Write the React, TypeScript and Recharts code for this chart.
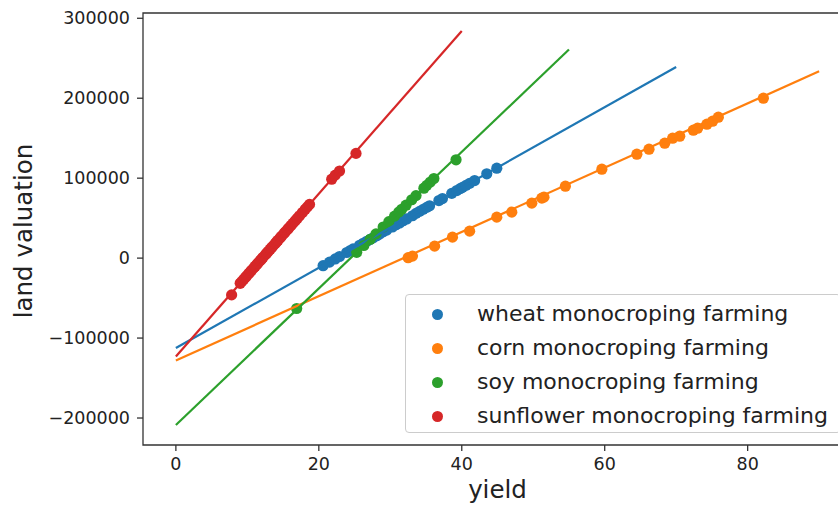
import React from 'react';
import { ScatterChart, Scatter, XAxis, YAxis, ReferenceArea, Label } from 'recharts';

// ---- data ----
const seriesNames = [
  'wheat monocroping farming',
  'corn monocroping farming',
  'soy monocroping farming',
  'sunflower monocroping farming',
];
const seriesColors = ['#1f77b4', '#ff7f0e', '#2ca02c', '#d62728'];

const xTicks = [0, 20, 40, 60, 80];
const yTicks = [-200000, -100000, 0, 100000, 200000, 300000];
const xDomain = [-4.6, 94.6];
const yDomain = [-233750, 306600];

const wheatX = [20.6, 21.5, 22.3, 22.9, 23.9, 24.4, 24.8, 25.7, 26.2, 26.7, 27.2, 27.6, 28.1, 28.5, 29.0, 29.5, 30.3, 30.8, 31.3, 31.8, 32.3, 33.1, 33.6, 34.1, 34.6, 35.1, 35.5, 36.8, 37.3, 38.6, 39.3, 39.8, 40.1, 40.6, 41.1, 41.8, 43.5, 44.9];
const wheatY = [-9500, -5000, -1000, 2000, 7000, 9500, 11500, 16000, 18500, 21000, 23500, 25500, 28000, 30000, 32800, 35000, 39000, 41800, 44000, 46800, 49000, 53000, 56000, 58500, 61000, 63500, 65500, 72000, 74500, 81000, 84500, 87000, 88500, 91000, 93500, 97000, 105500, 112500];

const cornX = [32.5, 33.1, 36.2, 38.7, 41.1, 44.9, 47.0, 49.8, 51.2, 51.5, 54.5, 59.6, 64.5, 66.2, 68.4, 69.5, 70.5, 72.4, 73.0, 74.3, 75.1, 75.9, 82.2];
const cornY = [500, 2500, 15000, 26250, 33750, 51250, 57500, 68750, 75000, 76250, 90000, 111250, 130000, 136250, 143750, 150000, 152500, 160000, 162500, 167500, 171250, 176250, 200000];

const soyX = [16.9, 25.3, 26.3, 27.2, 28.0, 29.0, 29.8, 30.6, 31.2, 31.6, 32.2, 33.0, 33.6, 34.7, 35.1, 35.6, 36.1, 39.2];
const soyY = [-63000, 7300, 15800, 23500, 30300, 38900, 45700, 52500, 57700, 61100, 66200, 73000, 78200, 87500, 91000, 95200, 99500, 123000];

const sunflowerX = [7.8, 9.0, 9.2, 9.5, 9.7, 9.9, 10.2, 10.4, 10.6, 10.9, 11.1, 11.3, 11.5, 11.8, 12.0, 12.2, 12.5, 12.7, 12.9, 13.2, 13.4, 13.6, 13.9, 14.1, 14.3, 14.6, 14.8, 15.1, 15.3, 15.6, 15.8, 16.1, 16.4, 16.7, 17.0, 17.3, 17.7, 18.1, 18.4, 18.7, 21.8, 22.3, 22.9, 25.2];
const sunflowerY = [-46000, -31500, -29400, -26400, -24400, -22300, -19300, -17200, -15200, -12200, -10100, -8100, -6100, -3000, -1000, 1100, 4100, 6100, 8200, 11200, 13300, 15300, 18300, 20400, 22400, 25500, 27500, 30600, 32600, 35600, 37700, 40700, 43800, 46800, 49900, 52900, 57000, 61100, 64100, 67200, 98700, 103800, 109000, 131000];

// fitted line endpoints
const wheatFitX = [0, 70];
const wheatFitY = [-112500, 239000];
const cornFitX = [0, 90];
const cornFitY = [-128000, 233750];
const soyFitX = [0, 55];
const soyFitY = [-208750, 261000];
const sunflowerFitX = [0, 40];
const sunflowerFitY = [-123000, 284000];

const zip = (xs: number[], ys: number[]) => xs.map((x, i) => ({ x, y: ys[i] }));

const pointSets = [
  zip(wheatX, wheatY),
  zip(cornX, cornY),
  zip(soyX, soyY),
  zip(sunflowerX, sunflowerY),
];
const fitSets = [
  zip(wheatFitX, wheatFitY),
  zip(cornFitX, cornFitY),
  zip(soyFitX, soyFitY),
  zip(sunflowerFitX, sunflowerFitY),
];

const FONT = '"DejaVu Sans", sans-serif';
const TEXT = '#222';
const AX = '#333';

const fmtY = (v: number) => (v < 0 ? '\u2212' + Math.abs(v) : String(v));

const makeDot = (color: string) => (props: any) => (
  <circle cx={props.cx} cy={props.cy} r={5.6} fill={color} />
);
const noDot = () => <g />;

const YLabelContent = () => (
  <text
    x={32}
    y={231}
    transform="rotate(-90 32 231)"
    textAnchor="middle"
    fontSize={24.5}
    fontFamily={FONT}
    fill={TEXT}
  >
    land valuation
  </text>
);

const XLabelContent = (props: any) => {
  const vb = props.viewBox || { x: 143, width: 709 };
  const cx = vb.x + vb.width / 2;
  return (
    <text x={cx} y={498} textAnchor="middle" fontSize={24.5} fontFamily={FONT} fill={TEXT}>
      yield
    </text>
  );
};

export default function App() {
  return (
    <div
      style={{
        position: 'absolute',
        left: 0,
        top: 0,
        width: 838,
        height: 507,
        overflow: 'hidden',
        background: '#fff',
      }}
    >
      <ScatterChart width={870} height={507} margin={{ top: 13, right: 18, bottom: 12, left: 0 }}>
        <XAxis
          type="number"
          dataKey="x"
          domain={xDomain}
          ticks={xTicks}
          allowDataOverflow
          height={50}
          axisLine={false}
          tickSize={6}
          tickMargin={7}
          tickLine={{ stroke: AX, strokeWidth: 1.3 }}
          tick={{ fontSize: 17.5, fill: TEXT, fontFamily: FONT }}
        >
          <Label content={XLabelContent} />
        </XAxis>
        <YAxis
          type="number"
          dataKey="y"
          domain={yDomain}
          ticks={yTicks}
          allowDataOverflow
          width={143}
          axisLine={false}
          tickSize={6}
          tickMargin={7}
          tickFormatter={fmtY}
          tickLine={{ stroke: AX, strokeWidth: 1.3 }}
          tick={{ fontSize: 17.5, fill: TEXT, fontFamily: FONT }}
        >
          <Label content={YLabelContent} />
        </YAxis>
        {pointSets.map((d, i) => (
          <Scatter
            key={'p' + i}
            name={seriesNames[i]}
            data={d}
            fill={seriesColors[i]}
            shape={makeDot(seriesColors[i])}
            isAnimationActive={false}
          />
        ))}
        {fitSets.map((d, i) => (
          <Scatter
            key={'f' + i}
            data={d}
            line={{ stroke: seriesColors[i], strokeWidth: 2.2 }}
            lineType="joint"
            shape={noDot}
            legendType="none"
            isAnimationActive={false}
          />
        ))}
        <ReferenceArea
          x1={xDomain[0]}
          x2={xDomain[1]}
          y1={yDomain[0]}
          y2={yDomain[1]}
          fill="none"
          fillOpacity={0}
          stroke={AX}
          strokeWidth={1.3}
          ifOverflow="visible"
        />
      </ScatterChart>
      <div
        style={{
          position: 'absolute',
          left: 405,
          top: 294,
          width: 436,
          height: 139,
          border: '1.3px solid #cccccc',
          borderRadius: 4,
          background: 'rgba(255,255,255,0.8)',
          boxSizing: 'border-box',
          fontFamily: FONT,
          fontSize: 22,
          color: TEXT,
        }}
      >
        {seriesNames.map((n, i) => (
          <div
            key={n}
            style={{
              position: 'absolute',
              left: 0,
              top: 19 + i * 34 - 16,
              height: 32,
              display: 'flex',
              alignItems: 'center',
              whiteSpace: 'nowrap',
            }}
          >
            <span
              style={{
                display: 'inline-block',
                width: 11,
                height: 11,
                borderRadius: '50%',
                background: seriesColors[i],
                marginLeft: 26,
                marginRight: 34,
              }}
            />
            <span style={{ lineHeight: '32px' }}>{n}</span>
          </div>
        ))}
      </div>
    </div>
  );
}
